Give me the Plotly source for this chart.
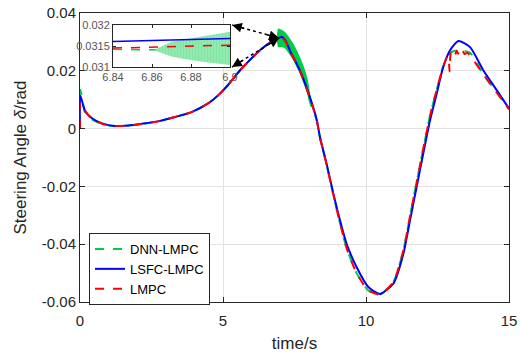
import plotly.graph_objects as go

# ---------------- data ----------------
t_main = [0, 0.01, 0.17, 0.42, 0.77, 1.22, 1.68, 2.17, 2.73, 3.32, 3.9, 4.48, 4.83, 5.17,
          5.59, 6.29, 6.76, 7.0, 7.05, 7.2, 7.34, 7.69, 8.04, 8.28, 8.39, 8.62, 8.86, 9.09,
          9.32, 9.67, 10.08, 10.49, 10.96, 11.31, 11.54, 11.77, 12.0, 12.24, 12.47, 12.7,
          12.94, 13.23, 13.64, 14.1, 14.57, 15.0]

lsfc_lmpc = [0, 0.0115, 0.0063, 0.0036, 0.0018, 0.0009, 0.0011, 0.0017, 0.0025, 0.0040,
             0.0057, 0.0087, 0.0115, 0.0150, 0.0201, 0.0271, 0.0305, 0.0316, 0.0318, 0.0302,
             0.0270, 0.0201, 0.0108, 0.0029, -0.0029, -0.0121, -0.0225, -0.0317, -0.0398,
             -0.0479, -0.0548, -0.0572, -0.0536, -0.0432, -0.0317, -0.0202, -0.0087, 0.0029,
             0.0120, 0.0213, 0.0271, 0.0303, 0.0282, 0.0202, 0.0133, 0.0069]

dnn_lmpc = [0, 0.0135, 0.0058, 0.0032, 0.0016, 0.0008, 0.0010, 0.0016, 0.0025, 0.0040,
            0.0057, 0.0087, 0.0115, 0.0150, 0.0201, 0.0270, 0.0304, 0.0314, 0.0316, 0.0300,
            0.0268, 0.0199, 0.0106, 0.0027, -0.0031, -0.0124, -0.0230, -0.0327, -0.0413,
            -0.0500, -0.0560, -0.0574, -0.0530, -0.0420, -0.0302, -0.0186, -0.0070, 0.0045,
            0.0134, 0.0215, 0.0262, 0.0272, 0.0262, 0.0188, 0.0125, 0.0067]

t_lmpc = [0, 0.01, 0.17, 0.42, 0.77, 1.22, 1.68, 2.17, 2.73, 3.32, 3.9, 4.48, 4.83, 5.17,
          5.59, 6.29, 6.76, 7.0, 7.05, 7.2, 7.34, 7.69, 8.04, 8.28, 8.39, 8.62, 8.86, 9.09,
          9.32, 9.67, 10.08, 10.49, 10.96, 11.31, 11.54, 11.77, 12.0, 12.24, 12.47, 12.7,
          12.84, 12.88, 12.92, 12.95, 12.98, 13.02, 13.07, 13.12, 13.17, 13.22, 13.27, 13.32,
          13.38, 13.45, 13.55, 13.65, 14.1, 14.57, 15.0]

lmpc = [0, 0.0092, 0.0060, 0.0034, 0.0017, 0.0009, 0.0010, 0.0016, 0.0025, 0.0040,
        0.0057, 0.0087, 0.0115, 0.0150, 0.0201, 0.0270, 0.0304, 0.0314, 0.0316, 0.0300,
        0.0268, 0.0199, 0.0106, 0.0027, -0.0031, -0.0124, -0.0230, -0.0327, -0.0413,
        -0.0500, -0.0560, -0.0574, -0.0530, -0.0420, -0.0302, -0.0186, -0.0070, 0.0045,
        0.0134, 0.0215, 0.0248, 0.0250, 0.0198, 0.0252, 0.0262, 0.0254, 0.0266, 0.0256,
        0.0270, 0.0259, 0.0271, 0.0260, 0.0268, 0.0258, 0.0262, 0.0252, 0.0188, 0.0125, 0.0067]

# DNN-LMPC oscillation envelope (main plot)
t_band = [6.88, 6.93, 7.05, 7.17, 7.3, 7.46, 7.6, 7.69, 7.8, 7.87, 7.95, 7.99, 8.07, 8.12]
band_upper = [0.0318, 0.0346, 0.0342, 0.0334, 0.0318, 0.0294, 0.0268, 0.0248, 0.0222,
              0.0202, 0.0175, 0.0156, 0.0109, 0.0085]
band_lower = [0.0312, 0.0282, 0.0282, 0.0277, 0.0260, 0.0236, 0.0208, 0.0190, 0.0162,
              0.0144, 0.0118, 0.0098, 0.0075, 0.0075]

# inset (zoom 6.84 .. 6.9 s)
t_in = [6.84, 6.9]
lsfc_in = [0.03161, 0.03168]
lmpc_in = [0.03145, 0.03152]
t_dnn_in = [6.84, 6.86, 6.9]
dnn_in = [0.03142, 0.03141, 0.03145]
t_in_band = [6.862, 6.866, 6.87, 6.875, 6.88, 6.885, 6.89, 6.895, 6.9]
in_upper = [0.03143, 0.03152, 0.0316, 0.03164, 0.03168, 0.03172, 0.03177, 0.0318, 0.03184]
in_lower = [0.03138, 0.03132, 0.03125, 0.0312, 0.03116, 0.03113, 0.0311, 0.03107, 0.03105]

x_ticks = [0, 5, 10, 15]
x_ticktext = ["0", "5", "10", "15"]
y_ticks = [-0.06, -0.04, -0.02, 0, 0.02, 0.04]
y_ticktext = ["-0.06", "-0.04", "-0.02", "0", "0.02", "0.04"]
in_x_ticks = [6.84, 6.86, 6.88, 6.9]
in_x_text = ["6.84", "6.86", "6.88", "6.9"]
in_y_ticks = [0.031, 0.0315, 0.032]
in_y_text = ["0.031", "0.0315", "0.032"]

# ---------------- styles ----------------
GREEN = "#00cc44"
BLUE = "#0000ff"
RED = "#ff0000"
AX = "#262626"
FONT = "Liberation Sans, Arial, Helvetica, sans-serif"

fig = go.Figure()

fig.add_trace(go.Scatter(x=t_main, y=dnn_lmpc, mode="lines", name="DNN-LMPC",
                         line=dict(color=GREEN, width=2, dash="dash", shape="spline", smoothing=0.6)))
fig.add_trace(go.Scatter(x=t_band, y=band_upper, mode="lines", showlegend=False,
                         line=dict(color=GREEN, width=0, shape="spline", smoothing=0.6),
                         hoverinfo="skip"))
fig.add_trace(go.Scatter(x=t_band, y=band_lower, mode="lines", showlegend=False,
                         line=dict(color=GREEN, width=0, shape="spline", smoothing=0.6),
                         fill="tonexty", fillcolor=GREEN, hoverinfo="skip"))
fig.add_trace(go.Scatter(x=t_main, y=lsfc_lmpc, mode="lines", name="LSFC-LMPC",
                         line=dict(color=BLUE, width=2, shape="spline", smoothing=0.6)))
fig.add_trace(go.Scatter(x=t_lmpc, y=lmpc, mode="lines", name="LMPC",
                         line=dict(color=RED, width=2, dash="dash", shape="spline", smoothing=0.6)))

# inset traces
fig.add_trace(go.Scatter(x=t_dnn_in, y=dnn_in, mode="lines", showlegend=False, xaxis="x2", yaxis="y2",
                         line=dict(color=GREEN, width=1.5, dash="dash")))
fig.add_trace(go.Scatter(x=t_in_band, y=in_upper, mode="lines", showlegend=False, xaxis="x2", yaxis="y2",
                         line=dict(color=GREEN, width=0), hoverinfo="skip"))
fig.add_trace(go.Scatter(x=t_in_band, y=in_lower, mode="lines", showlegend=False, xaxis="x2", yaxis="y2",
                         line=dict(color=GREEN, width=0), fill="tonexty", fillcolor="rgba(0,0,0,0)",
                         fillpattern=dict(shape="|", fgcolor=GREEN, bgcolor="white", size=3, solidity=0.9),
                         hoverinfo="skip"))
fig.add_trace(go.Scatter(x=t_in, y=lsfc_in, mode="lines", showlegend=False, xaxis="x2", yaxis="y2",
                         line=dict(color=BLUE, width=1.5)))
fig.add_trace(go.Scatter(x=t_in, y=lmpc_in, mode="lines", showlegend=False, xaxis="x2", yaxis="y2",
                         line=dict(color=RED, width=1.5, dash="dash")))

# ---------------- layout positions ----------------
W, H = 520, 353
ML, MR, MT, MB = 80, 11, 13, 51
pw, ph = W - ML - MR, H - MT - MB


def px_x(p):
    return (p - ML) / pw


def px_y(p):
    return (H - MB - p) / ph


inset_x = [px_x(113), px_x(230)]
inset_y = [px_y(67), px_y(25)]

blob = (px_x(279), px_y(38))
tip_top = (px_x(232), px_y(25))
tip_bot = (px_x(232), px_y(67))

shapes = []
for tip in (tip_top, tip_bot):
    shapes.append(dict(type="line", xref="paper", yref="paper", x0=blob[0], y0=blob[1],
                       x1=tip[0], y1=tip[1], line=dict(color="black", width=1.5, dash="dot")))

annotations = []
for tip, (ax, ay) in ((tip_top, (13.5, 3.7)), (tip_bot, (11.9, -7.4))):
    annotations.append(dict(xref="paper", yref="paper", x=tip[0], y=tip[1], text="",
                            showarrow=True, ax=ax, ay=ay, arrowhead=2, arrowsize=1.3,
                            arrowwidth=1.5, arrowcolor="black"))
    annotations.append(dict(xref="paper", yref="paper", x=blob[0], y=blob[1], text="",
                            showarrow=True, ax=-ax, ay=-ay, arrowhead=2, arrowsize=1.3,
                            arrowwidth=1.5, arrowcolor="black"))

fig.update_layout(
    width=W, height=H,
    margin=dict(l=ML, r=MR, t=MT, b=MB, autoexpand=False),
    paper_bgcolor="white", plot_bgcolor="white",
    font=dict(family=FONT, color=AX, size=14),
    showlegend=True,
    legend=dict(x=px_x(89), y=px_y(233), xanchor="left", yanchor="top",
                bgcolor="white", bordercolor=AX, borderwidth=1, traceorder="normal",
                font=dict(size=13, color="black"), tracegroupgap=0),
    xaxis=dict(range=[0, 15], tickvals=x_ticks, ticktext=x_ticktext, automargin=False,
               showgrid=True, gridcolor="#e3e3e3", gridwidth=1, zeroline=False,
               showline=True, linecolor=AX, linewidth=1, mirror="ticks",
               ticks="inside", ticklen=5, tickcolor=AX, ticklabelstandoff=5,
               tickfont=dict(size=15, color=AX),
               title=dict(text="time/s", font=dict(size=17, color=AX), standoff=12)),
    yaxis=dict(range=[-0.06, 0.04], tickvals=y_ticks, ticktext=y_ticktext, automargin=False,
               showgrid=True, gridcolor="#e3e3e3", gridwidth=1, zeroline=False,
               showline=True, linecolor=AX, linewidth=1, mirror="ticks",
               ticks="inside", ticklen=5, tickcolor=AX,
               tickfont=dict(size=15, color=AX),
               title=dict(text="Steering Angle <i>δ</i>/rad", font=dict(size=17, color=AX), standoff=10)),
    xaxis2=dict(domain=inset_x, anchor="y2", range=[6.84, 6.9], automargin=False,
                tickvals=in_x_ticks, ticktext=in_x_text, showgrid=False, zeroline=False,
                showline=True, linecolor=AX, linewidth=1, mirror="ticks",
                ticks="inside", ticklen=3, tickcolor=AX,
                tickfont=dict(size=11, color="#555555")),
    yaxis2=dict(domain=inset_y, anchor="x2", range=[0.031, 0.032], automargin=False,
                tickvals=in_y_ticks, ticktext=in_y_text, showgrid=False, zeroline=False,
                showline=True, linecolor=AX, linewidth=1, mirror="ticks",
                ticks="inside", ticklen=3, tickcolor=AX,
                tickfont=dict(size=11, color="#555555")),
    shapes=shapes,
    annotations=annotations,
)

fig.write_html("out.html")
